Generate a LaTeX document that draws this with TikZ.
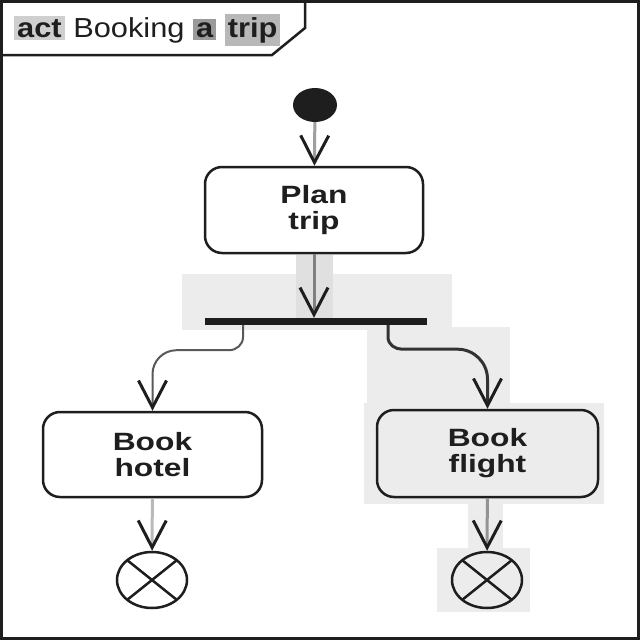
\documentclass[tikz,border=0pt]{standalone}
\usepackage{fontspec}
\setmainfont{Liberation Sans}
\newfontfamily\titlefont[FakeStretch=1.12]{Liberation Sans}
\newfontfamily\nodefont[FakeStretch=1.27]{Liberation Sans}
\usetikzlibrary{arrows.meta,shapes.geometric}
\definecolor{hl}{HTML}{ECECEC}
\definecolor{hlb}{HTML}{E0E0E0}
\definecolor{actbg}{HTML}{CFCFCF}
\definecolor{abg}{HTML}{9A9A9A}
\definecolor{tripbg}{HTML}{B8B8B8}
\definecolor{ink}{HTML}{1E1E1E}
\tikzset{
  action/.style={draw=ink, line width=2.5pt, rounded corners=17pt, fill=white,
    minimum width=218pt, minimum height=86pt, align=center, text=ink,
    font=\nodefont\bfseries\fontsize{25}{26}\selectfont},
  tip/.style={-{Straight Barb[length=27pt,width=28pt,line width=3pt,color=ink]}},
  flow/.style={tip, line width=3pt},
  final/.style={ellipse, draw=ink, line width=2.5pt, minimum width=70pt, minimum height=56pt,
    inner sep=0pt,
    path picture={\draw[line width=2.5pt, ink]
      (path picture bounding box.north west) -- (path picture bounding box.south east)
      (path picture bounding box.north east) -- (path picture bounding box.south west);}},
  hilite/.style={fill=hl, draw=none}
}
\begin{document}
\begin{tikzpicture}[x=1pt,y=-1pt]
\useasboundingbox (0,0) rectangle (640,640);
\fill[white] (0,0) rectangle (640,640);
% light highlight regions
\fill[hilite] (182,274) rectangle (452,330);
\fill[hlb] (296,255) rectangle (333,318);
\fill[hilite] (367,327) rectangle (510,405);
\fill[hilite] (364,403) rectangle (604,504);
\fill[hilite] (468,503) rectangle (503,550);
\fill[hilite] (437,548) rectangle (530,612);
% title tab
\draw[ink, line width=2.5pt, fill=white] (0,1) -- (305,1) -- (305,28) -- (272,55) -- (0,55);
\node[anchor=base west, inner sep=0pt, text=ink,
  font=\titlefont\fontsize{27.5}{30}\selectfont] (title) at (14,37)
  {\setlength{\fboxsep}{3pt}\colorbox{actbg}{\bfseries act} Booking \colorbox{abg}{\bfseries a} \colorbox{tripbg}{\bfseries trip}};
% frame
\draw[ink, line width=3pt] (1.5,1.5) rectangle (638.5,638.5);
% nodes
\node[ellipse, fill=ink, minimum width=44pt, minimum height=34pt, inner sep=0pt] (init) at (315,105) {};
\node[action] (plan) at (314,210) {Plan\\trip};
\node[fill=ink, minimum width=222pt, minimum height=7pt, inner sep=0pt] (fork) at (316,321.5) {};
\node[action, minimum width=219pt, minimum height=85pt] (hotel) at (152.5,454.5) {Book\\hotel};
\node[action, minimum width=221pt, minimum height=87pt, fill=hl] (flight) at (487.5,453.5) {Book\\flight};
\node[final] (f1) at (152,580) {};
\node[final, fill=hl] (f2) at (487,580) {};
% connectors
\draw[flow, draw=gray!75] (init) -- (plan);
\draw[flow, draw=gray] (plan.south) -- (plan.south |- fork.north);
\path ([xshift=-73pt,yshift=-25pt]fork.south) coordinate (lk);
\path ([xshift=72pt,yshift=-24pt]fork.south) coordinate (rk);
\path (lk -| hotel.north) coordinate (lh);
\path (rk -| flight.north) coordinate (rh);
\draw[tip, line width=2pt, draw=black!65] ([xshift=-73pt]fork.south)
  -- ([yshift=13pt]lk) to[out=270,in=0] ([xshift=-14pt]lk)
  -- ([xshift=24pt]lh) to[out=180,in=90] ([yshift=-24pt]lh) -- (hotel.north);
\draw[tip, line width=3pt, draw=black!80] ([xshift=72pt]fork.south)
  -- ([yshift=12pt]rk) to[out=270,in=180] ([xshift=14pt]rk)
  -- ([xshift=-30pt]rh) to[out=0,in=90] ([yshift=-30pt]rh) -- (flight.north);
\draw[flow, draw=gray!55] (hotel) -- (f1);
\draw[flow, draw=gray!85] (flight) -- (f2);
\end{tikzpicture}
\end{document}
